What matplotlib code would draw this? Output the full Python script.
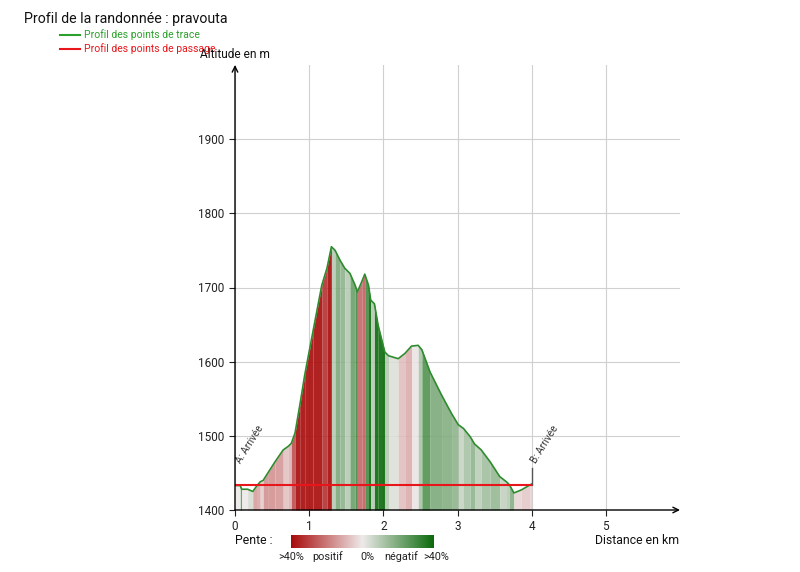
import numpy as np
import matplotlib.pyplot as plt
from matplotlib.colors import LinearSegmentedColormap
from matplotlib.lines import Line2D

plt.rcParams['font.family'] = ['Roboto', 'DejaVu Sans']

# profile
dist_km = [0.00, 0.07, 0.09, 0.17, 0.24, 0.29, 0.34, 0.38, 0.45, 0.54, 0.65, 0.72, 0.76,
           0.81, 0.88, 0.94, 1.05, 1.17, 1.24, 1.30, 1.35, 1.415, 1.48, 1.55, 1.62, 1.65,
           1.71, 1.75, 1.80, 1.83, 1.88, 1.93, 2.02, 2.07, 2.20, 2.29, 2.38, 2.47, 2.52,
           2.63, 2.785, 2.92, 3.01, 3.08, 3.17, 3.23, 3.32, 3.44, 3.57, 3.66, 3.70, 3.76,
           3.86, 3.98, 4.00]
alt_m = [1433, 1433, 1428, 1428, 1425, 1432, 1438, 1440, 1451, 1465, 1481, 1486, 1490,
         1504, 1545, 1582, 1640, 1703, 1726, 1755, 1750, 1737, 1726, 1719, 1703, 1694,
         1708, 1718, 1703, 1683, 1678, 1649, 1613, 1608, 1604, 1611, 1621, 1622, 1616,
         1586, 1555, 1530, 1515, 1510, 1499, 1489, 1481, 1465, 1445, 1438, 1434, 1423,
         1427, 1434, 1435]

passage_km = [0.0, 4.0]
passage_alt = [1434, 1434]

xticks = [0, 1, 2, 3, 4, 5]
yticks = [1400, 1500, 1600, 1700, 1800, 1900]

cmap = LinearSegmentedColormap.from_list('pente', ['#0b6a0b', '#eeeaea', '#a80a0a'])

fig = plt.figure(figsize=(8, 5.72), dpi=100)
ax = fig.add_axes([235 / 800, 62 / 572, 445 / 800, 445 / 572])
ax.set_xlim(0, 6)
ax.set_ylim(1400, 2000)

# slope coloured stripes
d = np.array(dist_km)
a = np.array(alt_m)
slope = np.diff(a) / (np.diff(d) * 1000)
for i in range(len(slope)):
    c = cmap((np.clip(slope[i], -0.4, 0.4) + 0.4) / 0.8)
    ax.fill_between(d[i:i + 2], a[i:i + 2], 1400, color=c, lw=0, alpha=0.9)

ax.plot(d, a, color='#2e8b2e', lw=1.2)
ax.plot(passage_km, passage_alt, color='#e8161b', lw=1.5)

# B marker
ax.plot([4.0, 4.0], [1435, 1456], color='#555555', lw=1)
ax.text(0.11, 1460, 'A: Arrivée', rotation=58, rotation_mode='anchor',
        ha='left', va='bottom', fontsize=7.2, color='#333333')
ax.text(4.08, 1460, 'B: Arrivée', rotation=58, rotation_mode='anchor',
        ha='left', va='bottom', fontsize=7.2, color='#333333')

ax.set_xticks(xticks)
ax.set_yticks(yticks)
ax.tick_params(labelsize=8.5, colors='#222222', length=4, width=0.8)
ax.grid(True, color='#d0d0d0', lw=0.8)
ax.set_axisbelow(True)
for s in ax.spines.values():
    s.set_visible(False)
ax.annotate('', xy=(0, 2000), xytext=(0, 1400),
            arrowprops=dict(arrowstyle='->', color='black', lw=1, shrinkA=0, shrinkB=0))
ax.annotate('', xy=(6, 1400), xytext=(0, 1400),
            arrowprops=dict(arrowstyle='->', color='black', lw=1, shrinkA=0, shrinkB=0))

# texts
fig.text(24 / 800, 1 - 19 / 572, 'Profil de la randonnée : pravouta', fontsize=10.2,
         va='center', color='#111111')
fig.add_artist(Line2D([60 / 800, 80 / 800], [1 - 35 / 572] * 2, color='#2ca02c', lw=1.5))
fig.text(84 / 800, 1 - 35 / 572, 'Profil des points de trace', fontsize=7.5,
         va='center', color='#2ca02c')
fig.add_artist(Line2D([60 / 800, 80 / 800], [1 - 49 / 572] * 2, color='#e8161b', lw=1.5))
fig.text(84 / 800, 1 - 49 / 572, 'Profil des points de passage', fontsize=7.5,
         va='center', color='#e8161b')
fig.text(200 / 800, 1 - 54 / 572, 'Altitude en m', fontsize=8.6, va='center', color='#111111')
fig.text(679 / 800, 1 - 541 / 572, 'Distance en km', fontsize=8.8, va='center', ha='right',
         color='#111111')
fig.text(235 / 800, 1 - 541 / 572, 'Pente :', fontsize=8.8, va='center', color='#111111')

cax = fig.add_axes([291 / 800, 24 / 572, 143 / 800, 13 / 572])
cax.imshow(np.linspace(1, 0, 256)[None, :], cmap=cmap, aspect='auto')
cax.set_axis_off()

leg_labels = ['>40%', 'positif', '0%', 'négatif', '>40%']
leg_x = [278, 312, 360, 384, 423]
for lab, x in zip(leg_labels, leg_x):
    fig.text(x / 800, 1 - 557 / 572, lab, fontsize=7.8, va='center', color='#222222')

fig.savefig('out.png', dpi=100)
